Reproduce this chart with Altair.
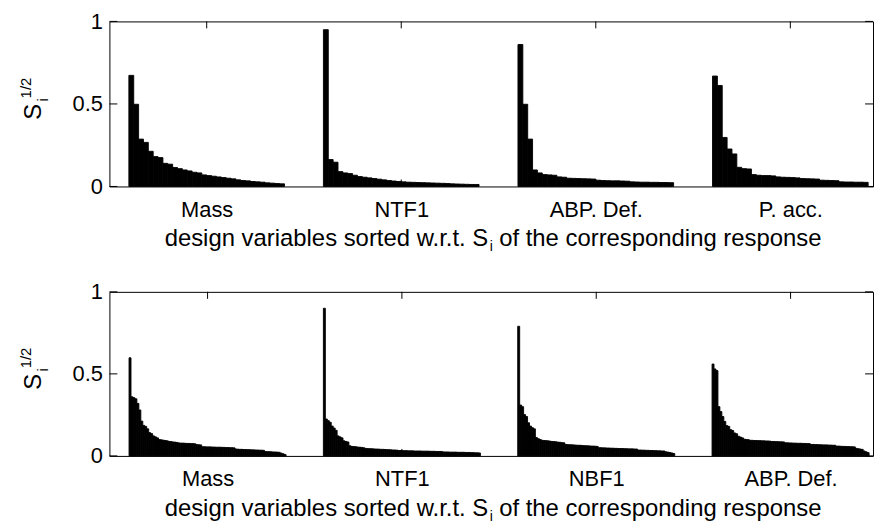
import json
import altair as alt
import pandas as pd

# ---------------- data ----------------
top_names = ["Mass", "NTF1", "ABP. Def.", "P. acc."]
bottom_names = ["Mass", "NTF1", "NBF1", "ABP. Def."]

top_mass = [0.673, 0.498, 0.287, 0.267, 0.213, 0.181, 0.175, 0.140, 0.135, 0.115,
            0.108, 0.100, 0.094, 0.086, 0.082, 0.070, 0.066, 0.062, 0.058, 0.054,
            0.050, 0.046, 0.040, 0.036, 0.034, 0.030, 0.028, 0.026, 0.022, 0.020,
            0.018, 0.016]
top_ntf1 = [0.950, 0.163, 0.147, 0.090, 0.082, 0.078, 0.068, 0.060, 0.056, 0.052,
            0.048, 0.044, 0.040, 0.036, 0.033, 0.030, 0.028, 0.026, 0.025, 0.024,
            0.023, 0.022, 0.021, 0.020, 0.019, 0.018, 0.016, 0.015, 0.014, 0.013,
            0.012, 0.012]
top_abp = [0.860, 0.498, 0.287, 0.100, 0.082, 0.072, 0.070, 0.068, 0.058, 0.056,
           0.050, 0.049, 0.048, 0.047, 0.046, 0.045, 0.038, 0.036, 0.035, 0.034,
           0.034, 0.033, 0.032, 0.028, 0.027, 0.026, 0.026, 0.025, 0.025, 0.024,
           0.024, 0.023]
top_pacc = [0.669, 0.612, 0.297, 0.227, 0.197, 0.116, 0.108, 0.106, 0.072, 0.068,
            0.066, 0.066, 0.064, 0.058, 0.056, 0.055, 0.054, 0.052, 0.048, 0.047,
            0.046, 0.045, 0.038, 0.037, 0.036, 0.035, 0.028, 0.027, 0.027, 0.026,
            0.026, 0.025]

bot_mass = [0.598, 0.360, 0.355, 0.348, 0.320, 0.280, 0.212, 0.186, 0.180, 0.165,
            0.142, 0.136, 0.122, 0.116, 0.110, 0.100, 0.098, 0.096, 0.094, 0.092,
            0.088, 0.087, 0.085, 0.084, 0.082, 0.079, 0.078, 0.078, 0.077, 0.076,
            0.076, 0.075, 0.075, 0.074, 0.069, 0.068, 0.067, 0.056, 0.056, 0.055,
            0.055, 0.055, 0.054, 0.054, 0.053, 0.053, 0.053, 0.052, 0.052, 0.051,
            0.051, 0.050, 0.050, 0.049, 0.042, 0.041, 0.040, 0.040, 0.039, 0.039,
            0.038, 0.038, 0.037, 0.037, 0.036, 0.036, 0.035, 0.035, 0.034, 0.027,
            0.026, 0.026, 0.025, 0.024, 0.024, 0.023, 0.022, 0.017, 0.013, 0.008]
bot_ntf1 = [0.900, 0.225, 0.215, 0.205, 0.182, 0.170, 0.156, 0.122, 0.116, 0.110,
            0.092, 0.088, 0.085, 0.062, 0.058, 0.057, 0.056, 0.054, 0.053, 0.052,
            0.050, 0.046, 0.045, 0.044, 0.044, 0.043, 0.042, 0.042, 0.041, 0.040,
            0.040, 0.039, 0.038, 0.038, 0.037, 0.036, 0.036, 0.035, 0.033, 0.033,
            0.032, 0.032, 0.032, 0.031, 0.031, 0.031, 0.030, 0.030, 0.030, 0.030,
            0.029, 0.029, 0.029, 0.029, 0.028, 0.028, 0.028, 0.027, 0.027, 0.027,
            0.026, 0.024, 0.024, 0.024, 0.023, 0.023, 0.023, 0.023, 0.022, 0.022,
            0.022, 0.022, 0.021, 0.021, 0.021, 0.020, 0.020, 0.019, 0.019, 0.018]
bot_nbf1 = [0.790, 0.310, 0.300, 0.252, 0.240, 0.202, 0.182, 0.172, 0.165, 0.112,
            0.105, 0.100, 0.095, 0.094, 0.093, 0.092, 0.090, 0.088, 0.087, 0.086,
            0.084, 0.083, 0.081, 0.080, 0.070, 0.069, 0.068, 0.068, 0.067, 0.066,
            0.065, 0.065, 0.064, 0.063, 0.062, 0.062, 0.061, 0.060, 0.060, 0.059,
            0.058, 0.050, 0.050, 0.049, 0.049, 0.048, 0.048, 0.047, 0.047, 0.046,
            0.046, 0.045, 0.045, 0.045, 0.044, 0.044, 0.043, 0.043, 0.043, 0.042,
            0.042, 0.036, 0.036, 0.035, 0.035, 0.034, 0.034, 0.033, 0.033, 0.032,
            0.032, 0.031, 0.031, 0.030, 0.030, 0.025, 0.023, 0.021, 0.018, 0.015]
bot_abp = [0.560, 0.530, 0.520, 0.300, 0.270, 0.240, 0.210, 0.185, 0.180, 0.160,
           0.155, 0.140, 0.135, 0.120, 0.115, 0.110, 0.102, 0.100, 0.099, 0.095,
           0.095, 0.094, 0.094, 0.093, 0.093, 0.092, 0.092, 0.091, 0.091, 0.090,
           0.088, 0.088, 0.087, 0.087, 0.086, 0.086, 0.085, 0.080, 0.080, 0.079,
           0.079, 0.078, 0.078, 0.077, 0.077, 0.077, 0.076, 0.076, 0.075, 0.075,
           0.070, 0.070, 0.069, 0.069, 0.068, 0.068, 0.067, 0.067, 0.067, 0.066,
           0.066, 0.065, 0.065, 0.060, 0.060, 0.059, 0.058, 0.058, 0.057, 0.057,
           0.056, 0.056, 0.055, 0.046, 0.044, 0.042, 0.040, 0.030, 0.025, 0.020]

y_ticks = [0, 0.5, 1]
y_label_parts = ["S", "i", "1/2"]
x_title_parts = ["design variables sorted w.r.t. S", "i", "of the corresponding response"]

# ---------------- layout ----------------
FONT = "Liberation Sans, Arial, Helvetica, sans-serif"
W = 768


def bars_frame(groups, gap):
    rows = []
    for g, vals in enumerate(groups):
        for i, v in enumerate(vals):
            rows.append({"x0": g * gap + i, "x1": g * gap + i + 1, "v": v})
    return pd.DataFrame(rows)


def panel(groups, names, gap, domain, h):
    n = len(groups[0])
    centers = [g * gap + n / 2 for g in range(len(groups))]
    xs = alt.Scale(domain=domain, nice=False, zero=False)
    ys = alt.Scale(domain=[0, 1], nice=False)
    label_expr = "%s[round((datum.value - %g) / %g)]" % (json.dumps(names), n / 2, gap)

    bars = alt.Chart(bars_frame(groups, gap)).mark_rect(
        color="black", stroke="black", strokeWidth=0.9
    ).encode(
        x=alt.X("x0:Q", scale=xs, axis=alt.Axis(
            values=centers, labelExpr=label_expr, ticks=False, domain=False, grid=False,
            title=None, labelFontSize=22, labelPadding=13, labelFlush=False,
            labelOverlap=False, labelColor="black", labelFont=FONT)),
        x2="x1:Q",
        y=alt.Y("v:Q", scale=ys, axis=alt.Axis(
            values=y_ticks, format=".1~f", ticks=False, domain=False, grid=False,
            title=None, labelFontSize=22, labelPadding=7, labelFlush=False,
            labelOverlap=False, labelColor="black", labelFont=FONT)),
        y2=alt.datum(0),
    )

    cdf = pd.DataFrame({"c": centers})
    ydf = pd.DataFrame({"t": y_ticks})
    tick_b = alt.Chart(cdf).mark_rule(color="black", strokeWidth=1).encode(
        x=alt.X("c:Q", scale=xs), y=alt.value(h), y2=alt.value(h - 7))
    tick_t = alt.Chart(cdf).mark_rule(color="black", strokeWidth=1).encode(
        x=alt.X("c:Q", scale=xs), y=alt.value(0), y2=alt.value(7))
    tick_l = alt.Chart(ydf).mark_rule(color="black", strokeWidth=1).encode(
        y=alt.Y("t:Q", scale=ys), x=alt.value(0), x2=alt.value(8))
    tick_r = alt.Chart(ydf).mark_rule(color="black", strokeWidth=1).encode(
        y=alt.Y("t:Q", scale=ys), x=alt.value(W - 8), x2=alt.value(W))

    def txt(s, x, y, size, align="center", baseline="middle", angle=0):
        kw = dict(color="black", font=FONT, fontSize=size, align=align, baseline=baseline)
        if angle:
            kw["angle"] = angle
        return alt.Chart(pd.DataFrame({"t": [s]})).mark_text(**kw).encode(
            text="t:N", x=alt.value(x), y=alt.value(y))

    ylab = [
        txt(y_label_parts[0], -76, h / 2 + 8, 24, angle=270),
        txt(y_label_parts[1], -67, h / 2 - 4, 15, angle=270),
        txt(y_label_parts[2], -84, h / 2 - 16, 15, angle=270),
    ]
    xt = [
        txt(x_title_parts[0], 381, h + 60, 24, align="right", baseline="alphabetic"),
        txt(x_title_parts[1], 384, h + 65, 14, align="center", baseline="alphabetic"),
        txt(x_title_parts[2], 392, h + 60, 24, align="left", baseline="alphabetic"),
    ]
    return alt.layer(bars, tick_b, tick_t, tick_l, tick_r, *ylab, *xt).properties(
        width=W, height=h)


top = panel([top_mass, top_ntf1, top_abp, top_pacc], top_names, 40, [-4, 153], 166)
bottom = panel([bot_mass, bot_ntf1, bot_nbf1, bot_abp], bottom_names, 99, [-10, 379], 165)

chart = alt.vconcat(top, bottom, spacing=106, bounds="flush").properties(
    padding={"left": 10, "top": 0, "right": 2, "bottom": 0},
    background="white",
).configure_view(stroke="black", strokeWidth=1)

chart.save("out.html", embed_options={"renderer": "svg", "actions": False})
